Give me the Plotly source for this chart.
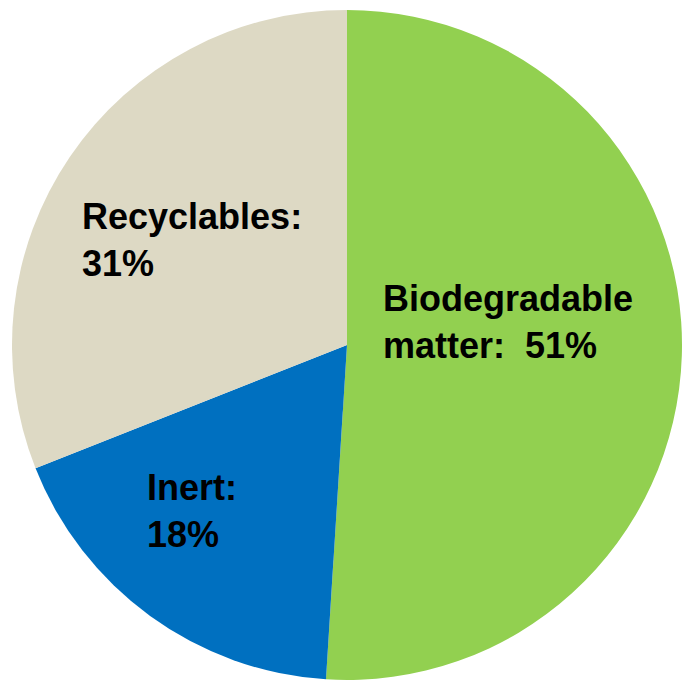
import plotly.graph_objects as go

labels = ["Biodegradable matter", "Inert", "Recyclables"]
values = [51, 18, 31]
colors = ["#92D050", "#0070C0", "#DDD9C4"]
label_texts = ["Biodegradable<br>matter:  {}%", "Inert:<br>{}%", "Recyclables:<br>{}%"]
label_pos = [(381, 322), (145, 511), (80, 240)]  # px from left/top

W, H = 682, 683

fig = go.Figure(go.Pie(
    labels=labels, values=values, sort=False, direction="clockwise", rotation=0,
    marker=dict(colors=colors, line=dict(width=0)),
    textinfo="none", hoverinfo="label+percent",
    domain=dict(x=[12 / W, 1.0], y=[1 / H, 675 / H]),
    showlegend=False,
))

for t, v, (px, py) in zip(label_texts, values, label_pos):
    fig.add_annotation(
        x=px / W, y=1 - py / H, xref="paper", yref="paper",
        text=t.format(v), showarrow=False, xanchor="left", yanchor="middle", align="left",
        font=dict(family="Liberation Sans, Arial, sans-serif", size=36, color="black", weight="bold"),
    )

fig.update_layout(width=W, height=H, margin=dict(l=0, r=0, t=0, b=0),
                  paper_bgcolor="white", plot_bgcolor="white")
fig.write_html("out.html")
